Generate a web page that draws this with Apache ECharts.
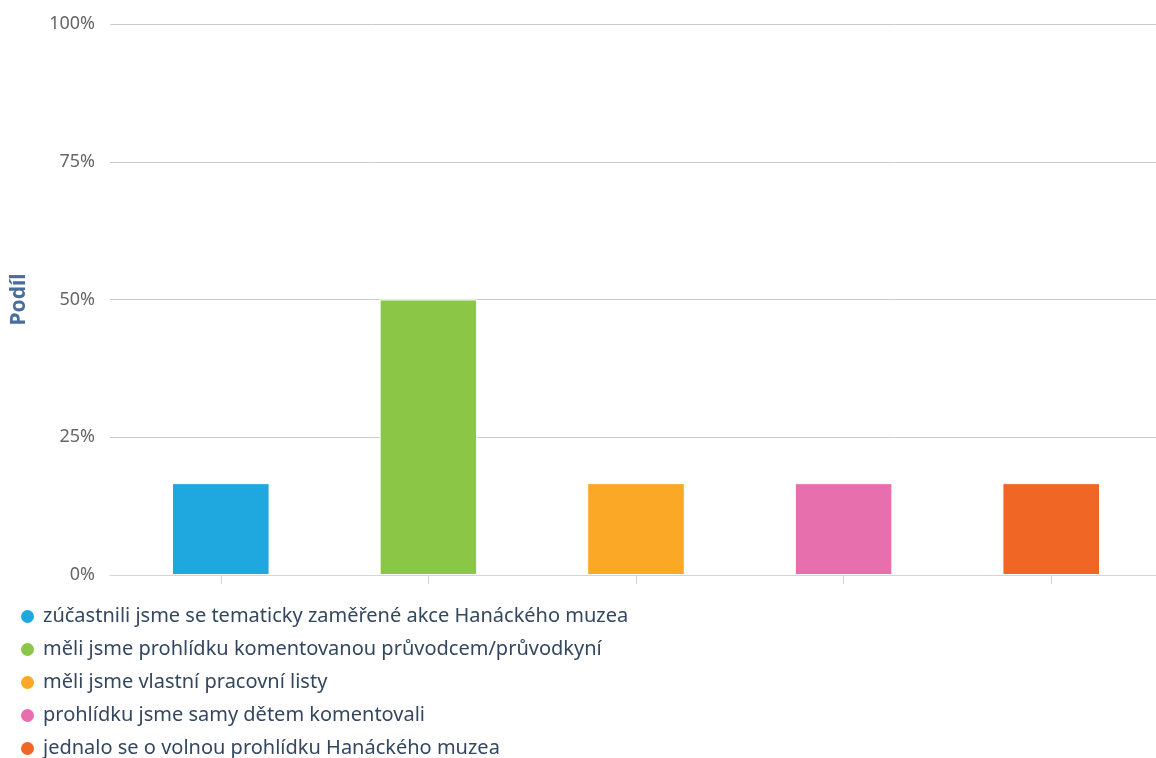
<!DOCTYPE html>
<html><head><meta charset="utf-8">
<script src="https://cdn.jsdelivr.net/npm/echarts@6/dist/echarts.min.js"></script>
<style>html,body{margin:0;padding:0;background:#fff}#c{width:1156px;height:758px}</style>
</head><body><div id="c"></div>
<script>
const categories = [
  'zúčastnili jsme se tematicky zaměřené akce Hanáckého muzea',
  'měli jsme prohlídku komentovanou průvodcem/průvodkyní',
  'měli jsme vlastní pracovní listy',
  'prohlídku jsme samy dětem komentovali',
  'jednalo se o volnou prohlídku Hanáckého muzea'
];
const values = [16.67, 50, 16.67, 16.67, 16.67];
const colors = ['#1fa8e0', '#8bc646', '#fba826', '#e86fad', '#f06624'];
const yTicks = [0, 25, 50, 75, 100];

const chart = echarts.init(document.getElementById('c'));
const font = '"Noto Sans", "Open Sans", sans-serif';
const series = categories.map((name, i) => ({
  name: name,
  type: 'bar',
  xAxisIndex: 1, yAxisIndex: 1,
  barWidth: '47%',
  barGap: '-100%',
  itemStyle: {color: colors[i], borderColor: '#fff', borderWidth: 1},
  data: categories.map((c, j) => j === i ? values[i] : '-')
}));
chart.setOption({
  animation: false,
  legend: {
    orient: 'vertical', left: 19, top: 606, height: 160, padding: 0,
    icon: 'circle', itemWidth: 15, itemHeight: 15, itemGap: 12,
    textStyle: {fontFamily: font, fontSize: 20, color: '#34475f', lineHeight: 21, padding: [0, 0, 0, 3]},
    data: categories
  },
  grid: [
    {left: 110, right: 0, top: 24, bottom: 183},
    {left: 117, right: 1, top: 24, bottom: 183}
  ],
  xAxis: [
    {type: 'category', gridIndex: 0, data: categories, axisLabel: {show: false}, axisTick: {show: false},
     axisLine: {lineStyle: {color: '#ccd6eb', width: 1}}},
    {type: 'category', gridIndex: 1, data: categories, axisLabel: {show: false},
     axisTick: {show: true, interval: 0, alignWithLabel: true, length: 9, lineStyle: {color: '#ccd6eb'}},
     axisLine: {show: false}}
  ],
  yAxis: [
    {type: 'value', gridIndex: 0, min: yTicks[0], max: yTicks[yTicks.length - 1], interval: 25,
     name: 'Podíl', nameLocation: 'middle', nameGap: 80,
     nameTextStyle: {fontFamily: font, fontSize: 21, fontWeight: 'bold', color: '#4a6e9c'},
     axisLabel: {formatter: '{value}%', margin: 15, fontFamily: font, fontSize: 18, color: '#666'},
     splitLine: {lineStyle: {color: '#cccccc', width: 1}},
     axisLine: {show: false}, axisTick: {show: false}},
    {type: 'value', gridIndex: 1, min: yTicks[0], max: yTicks[yTicks.length - 1], interval: 25,
     axisLabel: {show: false}, splitLine: {show: false}, axisLine: {show: false}, axisTick: {show: false}}
  ],
  series: series
});
</script></body></html>
